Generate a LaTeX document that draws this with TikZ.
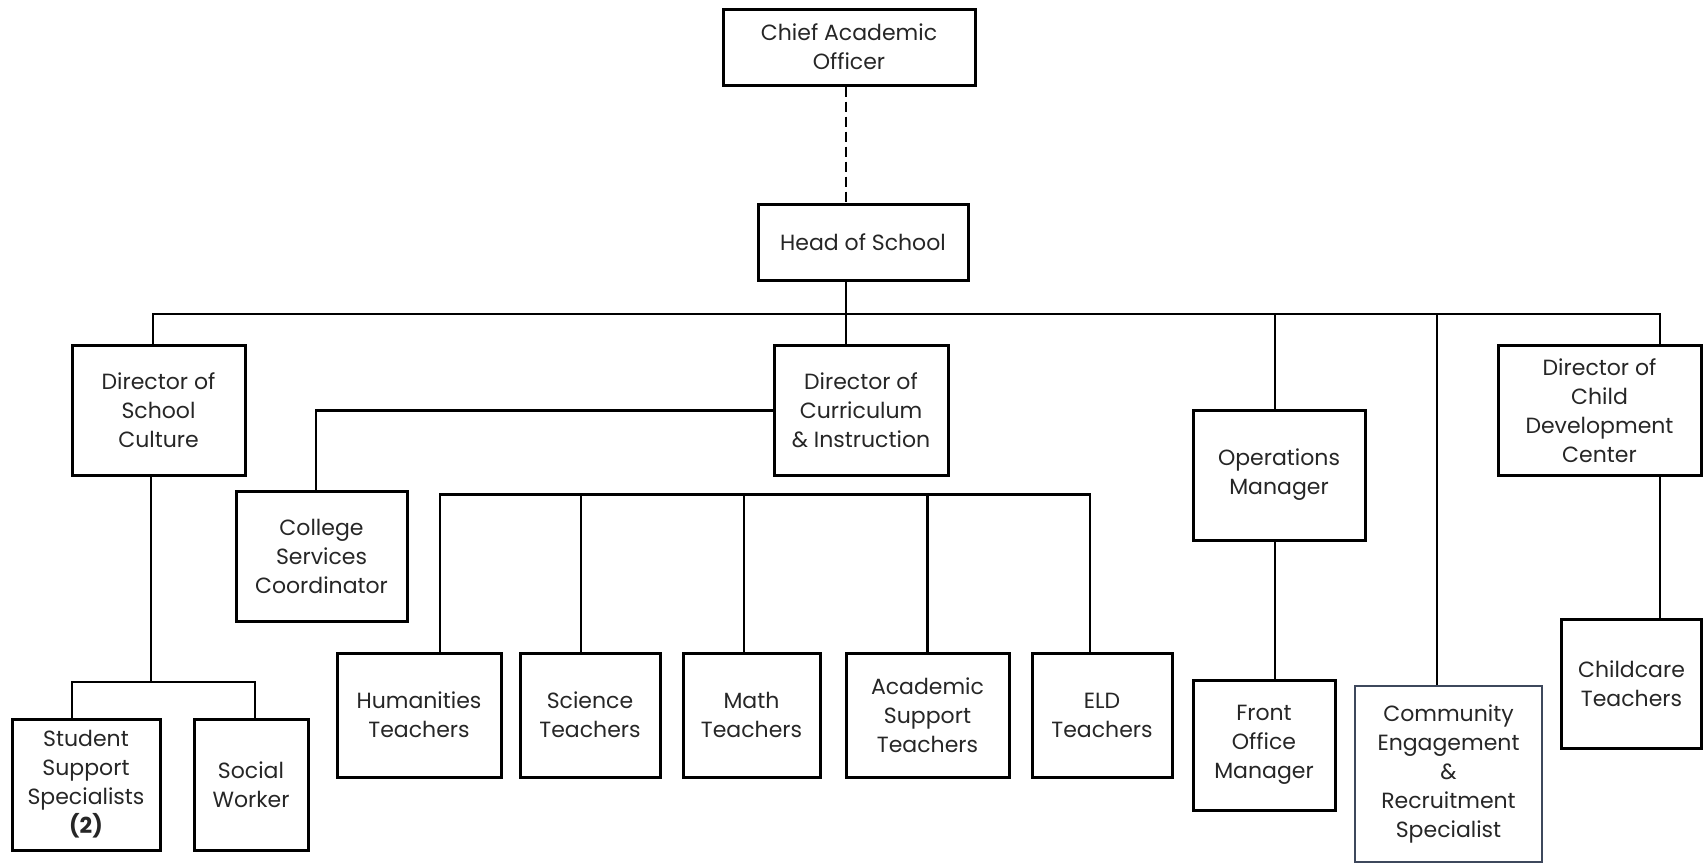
\documentclass[tikz,border=0pt]{standalone}
\usepackage{fontspec}
\setmainfont{Poppins}
\definecolor{slateedge}{RGB}{62,72,92}
\tikzset{
  post/.style={draw, line width=3pt, align=center, inner sep=0pt, text=black!85, font=\fontsize{22}{29}\selectfont},
  link/.style={line width=2.8pt},
}

\begin{document}
\begin{tikzpicture}[x=1pt, y=-1pt]
			\useasboundingbox (0,0) rectangle (1703,863);
			%%%%% BOXES %%%%%
			\node[post, minimum width=252, minimum height=76] (cao) at (849,47) {Chief Academic\\Officer};
			\node[post, minimum width=210, minimum height=76] (hos) at (863,242) {Head of School};
			
			\node[post, minimum width=173, minimum height=130] (dsc) at (158.5,410.5) {Director of\\School\\Culture};
			\node[post, minimum width=174, minimum height=130] (dci) at (861,410.5) {Director of\\Curriculum\\\& Instruction};
			\node[post, minimum width=172, minimum height=130] (ops) at (1279,475) {Operations\\Manager};
			\node[post, minimum width=203, minimum height=130] (dcdc) at (1599.5,410.5) {Director of\\Child\\Development\\Center};
			
			\node[post, minimum width=171, minimum height=130] (csc) at (321.5,556.5) {College\\Services\\Coordinator};
			\node[post, minimum width=148, minimum height=131] (sss) at (86,784.5) {Student\\Support\\Specialists\\\textbf{(2)}};
			\node[post, minimum width=114, minimum height=131] (sw) at (251,784.5) {Social\\Worker};
			
			\node[post, minimum width=164, minimum height=124] (hum) at (419,715) {Humanities\\Teachers};
			\node[post, minimum width=140, minimum height=124] (sci) at (590,715) {Science\\Teachers};
			\node[post, minimum width=137, minimum height=124] (math) at (751.5,715) {Math\\Teachers};
			\node[post, minimum width=163, minimum height=124] (acad) at (927.5,715) {Academic\\Support\\Teachers};
			\node[post, minimum width=140, minimum height=124] (eld) at (1102,715) {ELD\\Teachers};
			
			\node[post, minimum width=142, minimum height=130] (fom) at (1264,745) {Front\\Office\\Manager};
			\node[post, draw=slateedge, line width=2.6pt, minimum width=187, minimum height=176] (cers) at (1448.5,774) {Community\\Engagement\\\&\\Recruitment\\Specialist};
			\node[post, minimum width=140, minimum height=129] (child) at (1631.5,683.5) {Childcare\\Teachers};
			
			%%%%% LINES %%%%%
			\coordinate (top) at (846,314);
			\draw[link, dash pattern=on 10pt off 5pt] (cao.south -| top) -- (hos.north -| top);
			\draw[link] (hos.south -| top) -- (top);
			\draw[link] ([xshift=-5.5pt]dsc.north) |- (top) -| ([xshift=60.5pt]dcdc.north);
			\draw[link] (top) -- (dci.north -| top);
			\draw[link] ([xshift=-4pt]ops.north) -- ([xshift=-4pt]ops.north |- top);
			\draw[link] ([xshift=-11.5pt]cers.north) -- ([xshift=-11.5pt]cers.north |- top);
			
			\draw[link] ([xshift=-7.5pt]dsc.south) -- ++(0,205) coordinate (split);
			\draw[link] ([xshift=-14pt]sss.north) |- (split) -| ([xshift=4pt]sw.north);
			\draw[link] (dci.west) -| ([xshift=-5.5pt]csc.north);
			
			\draw[link] ([xshift=21pt]hum.north) -- ++(0,-157) -| ([xshift=-12pt]eld.north);
			\draw[link] ([xshift=-9pt]sci.north) -- ++(0,-157);
			\draw[link] ([xshift=-7.5pt]math.north) -- ++(0,-157);
			\draw[link] (acad.north) -- ++(0,-157);
			
			\draw[link] ([xshift=-4pt]ops.south) -- ([xshift=11pt]fom.north);
			\draw[link] ([xshift=60.5pt]dcdc.south) -- ([xshift=28.5pt]child.north);
			%%%%% END %%%%%
\end{tikzpicture}
\end{document}
